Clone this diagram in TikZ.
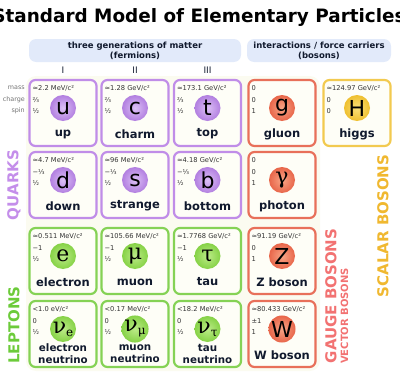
\documentclass[tikz,border=0pt]{standalone}
\usepackage{fontspec}
\setmainfont{DejaVu Sans}
\newfontfamily\grk{DejaVu Serif}
\definecolor{quarkline}{HTML}{C08DE8}
\definecolor{quarkin}{HTML}{DCC0F6}
\definecolor{quarkout}{HTML}{B27FE0}
\definecolor{leptonline}{HTML}{85D255}
\definecolor{leptonin}{HTML}{BCEB88}
\definecolor{leptonout}{HTML}{86D246}
\definecolor{gaugeline}{HTML}{E8705A}
\definecolor{gaugein}{HTML}{F8A586}
\definecolor{gaugeout}{HTML}{E8664A}
\definecolor{higgsline}{HTML}{F2CA50}
\definecolor{higgsin}{HTML}{F9E07A}
\definecolor{higgsout}{HTML}{EFC030}
\definecolor{quarklabel}{HTML}{C48EEA}
\definecolor{leptonlabel}{HTML}{6CCB3A}
\definecolor{gaugelabel}{HTML}{F27272}
\definecolor{higgslabel}{HTML}{F0B830}
\definecolor{headfill}{HTML}{E2EAFA}
\definecolor{namecol}{HTML}{111A2E}
\definecolor{propcol}{HTML}{333333}
\definecolor{cellfill}{HTML}{FEFEF7}
\definecolor{washfill}{HTML}{FBFBF0}
\newcommand\pcell[5]{% name, cx, cy, family, label
  \node[cellbox, draw=#4line] (#1) at (#2,#3) {};
  \node[namefont] (#1-name) at ([yshift=-21pt]#1.center) {#5};
}
\newcommand\pcelltwo[6]{% name, cx, cy, family, line1, line2
  \node[cellbox, draw=#4line] (#1) at (#2,#3) {};
  \node[namefont2, align=center] (#1-name) at ([yshift=-20pt]#1.center) {#5\\#6};
}
\newcommand\props[4]{% cell, mass, charge, spin
  \node[prop] (#1-m) at ([xshift=4pt,yshift=-9pt]#1.north west) {#2};
  \node[prop] (#1-q) at ([xshift=4pt,yshift=-21pt]#1.north west) {#3};
  \node[prop] (#1-s) at ([xshift=4pt,yshift=-32pt]#1.north west) {#4};
}
\newcommand\psym[3]{% cell, family, symbol
  \node[ball, inner color=#2in, outer color=#2out] (#1-sym) at ([yshift=5pt]#1.center) {#3};
}
\tikzset{
  cellbox/.style={rounded corners=6pt, line width=2.2pt, minimum width=67pt, minimum height=66pt, fill=cellfill, inner sep=0pt},
  namefont/.style={font=\fontsize{11.5}{12}\selectfont\bfseries, text=namecol, inner sep=0pt},
  namefont2/.style={font=\fontsize{10.3}{12}\selectfont\bfseries, text=namecol, inner sep=0pt},
  prop/.style={anchor=west, font=\fontsize{6.7}{7}\selectfont, text=propcol, inner sep=0pt},
  rowlab/.style={anchor=east, font=\fontsize{6.4}{7}\selectfont, text=black!55, inner sep=0pt},
  ball/.style={circle, minimum size=26pt, inner sep=0pt, shading=radial, font=\fontsize{22}{22}\selectfont, text=black},
  headbox/.style={rounded corners=7pt, fill=headfill, minimum height=23pt, inner sep=0pt},
  headtext/.style={font=\fontsize{8.5}{10}\selectfont\bfseries, text=namecol, align=center},
  sidelab/.style={rotate=90, font=\fontsize{15}{15}\selectfont\bfseries, inner sep=0pt},
  gen/.style={font=\fontsize{9}{9}\selectfont, text=namecol, inner sep=0pt}
}
\begin{document}
\begin{tikzpicture}[x=1pt,y=-1pt]
\useasboundingbox (0,0) rectangle (400,383);
% title
\node[font=\fontsize{18.4}{20}\selectfont\bfseries, inner sep=0pt] (title) at (199,17) {Standard Model of Elementary Particles};
% header boxes
\node[headbox, minimum width=212pt] (hf) at (135,50.5) {};
\node[headtext] (hft) at (hf.center) {three generations of matter\\(fermions)};
\node[headbox, minimum width=144pt] (hb) at (319,50.5) {};
\node[headtext] (hbt) at (hb.center) {interactions / force carriers\\(bosons)};
% generations
\node[gen] (g1) at (63,70) {I};
\node[gen] (g2) at (135,70) {II};
\node[gen] (g3) at (207.5,70) {III};
% faint wash
\fill[washfill, rounded corners=10pt] (26,76) rectangle (320,371);
% row labels
\node[rowlab] (lm) at (25,88) {mass};
\node[rowlab] (lq) at (25,100) {charge};
\node[rowlab] (ls) at (25,111) {spin};
% quarks
\pcell{up}{63}{113}{quark}{up}
\props{up}{≈2.2 MeV/c²}{⅔}{½}\psym{up}{quark}{u}
\pcell{charm}{135}{113}{quark}{charm}
\props{charm}{≈1.28 GeV/c²}{⅔}{½}\psym{charm}{quark}{c}
\pcell{top}{207.5}{113}{quark}{top}
\props{top}{≈173.1 GeV/c²}{⅔}{½}\psym{top}{quark}{t}
\pcell{down}{63}{185}{quark}{down}
\props{down}{≈4.7 MeV/c²}{−⅓}{½}\psym{down}{quark}{d}
\pcell{strange}{135}{185}{quark}{strange}
\props{strange}{≈96 MeV/c²}{−⅓}{½}\psym{strange}{quark}{s}
\pcell{bottom}{207.5}{185}{quark}{bottom}
\props{bottom}{≈4.18 GeV/c²}{−⅓}{½}\psym{bottom}{quark}{b}
% leptons
\pcell{electron}{63}{261}{lepton}{electron}
\props{electron}{≈0.511 MeV/c²}{−1}{½}\psym{electron}{lepton}{{\grk e}}
\pcell{muon}{135}{261}{lepton}{muon}
\props{muon}{≈105.66 MeV/c²}{−1}{½}\psym{muon}{lepton}{{\grk μ}}
\pcell{tau}{207.5}{261}{lepton}{tau}
\props{tau}{≈1.7768 GeV/c²}{−1}{½}\psym{tau}{lepton}{{\grk τ}}
\pcelltwo{enu}{63}{334}{lepton}{electron}{neutrino}
\props{enu}{<1.0 eV/c²}{0}{½}\psym{enu}{lepton}{{\grk ν\raisebox{-3pt}{\fontsize{12}{12}\selectfont e}}}
\pcelltwo{munu}{135}{334}{lepton}{muon}{neutrino}
\props{munu}{<0.17 MeV/c²}{0}{½}\psym{munu}{lepton}{{\grk ν\raisebox{-3pt}{\fontsize{12}{12}\selectfont μ}}}
\pcelltwo{taunu}{207.5}{334}{lepton}{tau}{neutrino}
\props{taunu}{<18.2 MeV/c²}{0}{½}\psym{taunu}{lepton}{{\grk ν\raisebox{-3pt}{\fontsize{12}{12}\selectfont τ}}}
% gauge bosons
\pcell{gluon}{282}{113}{gauge}{gluon}
\props{gluon}{0}{0}{1}\psym{gluon}{gauge}{g}
\pcell{photon}{282}{185}{gauge}{photon}
\props{photon}{0}{0}{1}\psym{photon}{gauge}{{\grk γ}}
\pcell{zboson}{282}{261}{gauge}{Z boson}
\props{zboson}{≈91.19 GeV/c²}{0}{1}\psym{zboson}{gauge}{Z}
\pcell{wboson}{282}{334}{gauge}{W boson}
\props{wboson}{≈80.433 GeV/c²}{±1}{1}\psym{wboson}{gauge}{W}
% higgs
\pcell{higgs}{357}{113}{higgs}{higgs}
\props{higgs}{≈124.97 GeV/c²}{0}{0}\psym{higgs}{higgs}{H}
% side labels
\node[sidelab, text=quarklabel] (lquarks) at (14,185) {QUARKS};
\node[sidelab, text=leptonlabel] (lleptons) at (14,325) {LEPTONS};
\node[sidelab, text=gaugelabel] (lgauge) at (331,296) {GAUGE BOSONS};
\node[sidelab, text=gaugelabel, font=\fontsize{10}{10}\selectfont\bfseries] (lvector) at (344.5,316) {VECTOR BOSONS};
\node[sidelab, text=higgslabel] (lscalar) at (383,226) {SCALAR BOSONS};
\end{tikzpicture}
\end{document}
